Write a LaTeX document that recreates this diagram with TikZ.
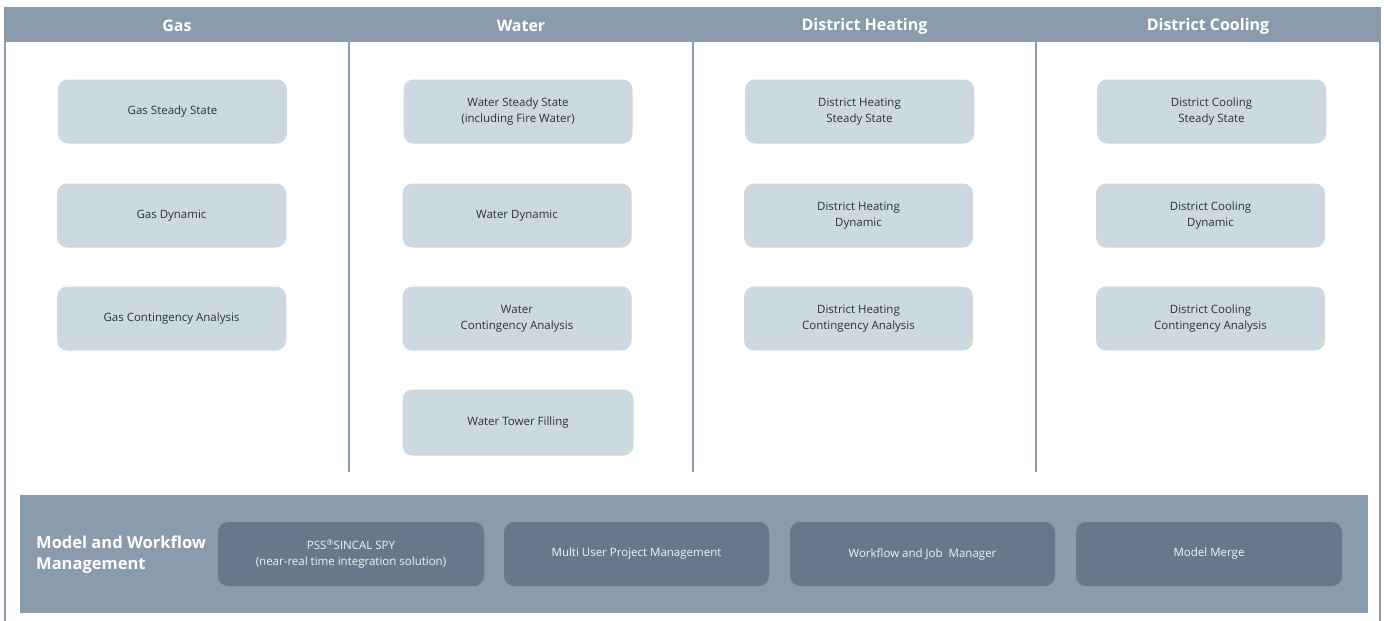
\documentclass[tikz,border=0pt]{standalone}
\usepackage{fontspec}
\setmainfont{Open Sans}
\definecolor{hdr}{HTML}{8A9BAB}
\definecolor{lite}{HTML}{CDD9E1}
\definecolor{dark}{HTML}{66788A}
\definecolor{txt}{HTML}{2D3238}
\begin{document}
\begin{tikzpicture}[x=1pt,y=-1pt,
  cell/.style={fill=lite,rounded corners=10pt,minimum width=229pt,minimum height=64pt,align=center,inner sep=0pt,text=txt,font=\fontsize{11.5}{16}\selectfont},
  mgmt/.style={fill=dark,rounded corners=10pt,minimum width=266pt,minimum height=64pt,align=center,inner sep=0pt,text=white!92!dark,font=\fontsize{11.5}{16}\selectfont},
  head/.style={text=white,font=\fontsize{16}{19}\selectfont\fontseries{sb}\selectfont},
  rule/.style={draw=hdr,line width=2pt}]
\useasboundingbox (0,0) rectangle (1384,621);
\fill[white] (0,0) rectangle (1384,621);
% frame
\fill[hdr] (5,7) rectangle (1380,42);
\draw[rule] (5,7) -- (5,621);
\draw[rule] (1380,7) -- (1380,621);
\draw[rule] (349,42) -- (349,472);
\draw[rule] (693,42) -- (693,472);
\draw[rule] (1036,42) -- (1036,472);
% headers
\node[head] (hg) at (177,26) {Gas};
\node[head] (hw) at (521,26) {Water};
\node[head] (hh) at (864.5,26) {District Heating};
\node[head] (hc) at (1208,26) {District Cooling};
% gas
\node[cell] (g1) at (172.5,111.5) {Gas Steady State};
\node[cell] (g2) at (171.5,215.5) {Gas Dynamic};
\node[cell] (g3) at (171.5,318.5) {Gas Contingency Analysis};
% water
\node[cell] (w1) at (518,111.5) {Water Steady State\\(including Fire Water)};
\node[cell] (w2) at (517,215.5) {Water Dynamic};
\node[cell] (w3) at (517,318.5) {Water\\Contingency Analysis};
\node[cell,minimum width=231pt,minimum height=66pt] (w4) at (518,422.5) {Water Tower Filling};
% heating
\node[cell] (d1) at (859.5,111.5) {District Heating\\Steady State};
\node[cell] (d2) at (858.5,215.5) {District Heating\\Dynamic};
\node[cell] (d3) at (858.5,318.5) {District Heating\\Contingency Analysis};
% cooling
\node[cell] (c1) at (1211.5,111.5) {District Cooling\\Steady State};
\node[cell] (c2) at (1210.5,215.5) {District Cooling\\Dynamic};
\node[cell] (c3) at (1210.5,318.5) {District Cooling\\Contingency Analysis};
% management band
\fill[hdr] (20,495) rectangle (1368,613);
\node[anchor=west,align=left,inner sep=0pt,text=white,font=\fontsize{16.5}{21}\selectfont\fontseries{sb}\selectfont] (mt) at (36,555) {Model and Workflow\\Management};
\node[mgmt] (m1) at (351,554) {PSS\textsuperscript{\textregistered}SINCAL SPY\\(near-real time integration solution)};
\node[mgmt,minimum width=265pt] (m2) at (636.5,554) {Multi User Project Management};
\node[mgmt,minimum width=265pt] (m3) at (922.5,554) {Workflow and Job\ \ Manager};
\node[mgmt] (m4) at (1209,554) {Model Merge};
\end{tikzpicture}
\end{document}
